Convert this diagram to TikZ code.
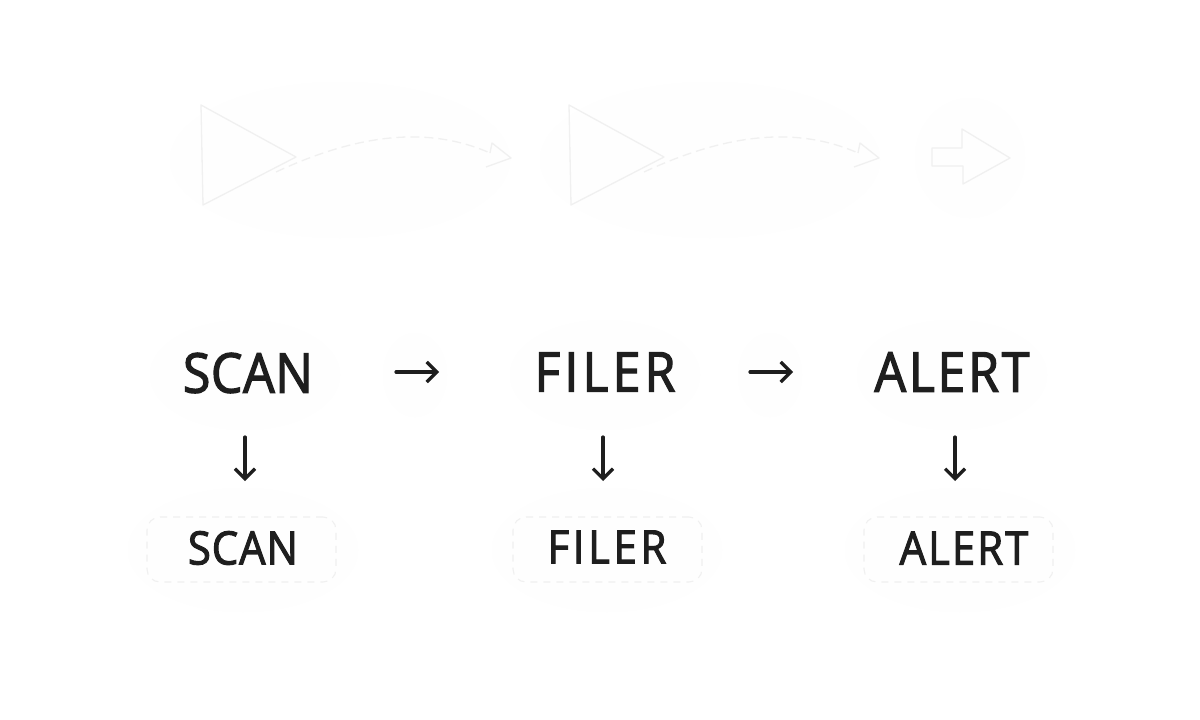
\documentclass[tikz,border=0pt]{standalone}
\usepackage{fontspec}
\setmainfont{Open Sans}
\usetikzlibrary{arrows.meta}
\definecolor{ink}{HTML}{1E1E1E}
\definecolor{ghost}{HTML}{F0F0F0}
\definecolor{blob}{HTML}{FEFEFE}
\definecolor{paper}{HTML}{FFFFFF}
\newcommand{\wordfont}[2]{\fontspec{Open Sans}[FakeBold=2.2,FakeStretch=0.91,LetterSpace=#2]\fontsize{#1}{#1}\selectfont}
\tikzset{
  bigword/.style={text=ink,inner sep=0pt},
  flow/.style={draw=ink,line width=3.2pt,line cap=round,-{Straight Barb[length=10pt,width=20pt,line width=3.2pt]}},
  ghostline/.style={draw=ghost,line width=1.3pt,line join=round},
  ghostdash/.style={draw=ghost,line width=1.3pt,dash pattern=on 9pt off 5pt},
  dashbox/.style={draw=ghost,line width=1.1pt,dash pattern=on 7pt off 6pt,rounded corners=13pt,minimum width=189pt,minimum height=65pt,inner sep=0pt},
  halo/.style={fill=blob,draw=none},
}
\begin{document}
\begin{tikzpicture}[x=1pt,y=-1pt]
\fill[paper] (0,0) rectangle (1200,720);
\useasboundingbox (0,0) rectangle (1200,720);
% faint halos
\fill[halo] (340,160) ellipse (170 and 78);
\fill[halo] (710,160) ellipse (170 and 78);
\fill[halo] (970,158) ellipse (55 and 60);
\fill[halo] (245,375) ellipse (95 and 55);
\fill[halo] (415,375) ellipse (32 and 42);
\fill[halo] (605,375) ellipse (95 and 55);
\fill[halo] (770,375) ellipse (32 and 42);
\fill[halo] (952,375) ellipse (95 and 55);
\fill[halo] (243,550) ellipse (115 and 62);
\fill[halo] (607,550) ellipse (115 and 62);
\fill[halo] (960,550) ellipse (115 and 62);
% ghost shapes
\draw[ghostline] (201,105) -- (296,157) -- (203,205) -- cycle;
\draw[ghostline] (569,105) -- (664,157) -- (571,205) -- cycle;
\draw[ghostline] (932,148) -- (962,148) -- (962,129) -- (1010,158) -- (963,184) -- (963,166) -- (932,166) -- cycle;
\coordinate (c1a) at (276,172); \coordinate (c1b) at (490,153);
\coordinate (c2a) at (644,172); \coordinate (c2b) at (858,153);
\draw[ghostdash] (c1a) .. controls (345,140) and (420,122) .. (c1b);
\draw[ghostdash] (c2a) .. controls (713,140) and (788,122) .. (c2b);
\draw[ghostline] (490,153) -- (492,143) -- (511,158) -- (486,167);
\draw[ghostline] (858,153) -- (860,143) -- (879,158) -- (854,167);
% top words
\node[bigword] (scan) at (248,373) {\wordfont{55}{1}SCAN};
\node[bigword] (filer) at (605,372) {\wordfont{55}{7.5}FILER};
\node[bigword] (alert) at (952,372) {\wordfont{55}{5}ALERT};
% lower boxes
\node[dashbox] (scanbox) at (241.5,549.5) {};
\node[dashbox] (filerbox) at (607.5,549.5) {};
\node[dashbox] (alertbox) at (958.5,549.5) {};
\node[bigword] (scanlow) at (243,548) {\wordfont{46}{2}SCAN};
\node[bigword] (filerlow) at (607,547) {\wordfont{46}{8}FILER};
\node[bigword] (alertlow) at (964,548) {\wordfont{46}{4.5}ALERT};
% connectors
\coordinate (h1a) at (396,372); \coordinate (h1b) at (439,372);
\coordinate (h2a) at (750,372); \coordinate (h2b) at (793,372);
\draw[flow] (h1a) -- (h1b);
\draw[flow] (h2a) -- (h2b);
\coordinate (v1a) at (245,437); \coordinate (v1b) at (245,481);
\coordinate (v2a) at (603,437); \coordinate (v2b) at (603,481);
\coordinate (v3a) at (955,437); \coordinate (v3b) at (955,481);
\draw[flow] (v1a) -- (v1b);
\draw[flow] (v2a) -- (v2b);
\draw[flow] (v3a) -- (v3b);
\end{tikzpicture}
\end{document}
